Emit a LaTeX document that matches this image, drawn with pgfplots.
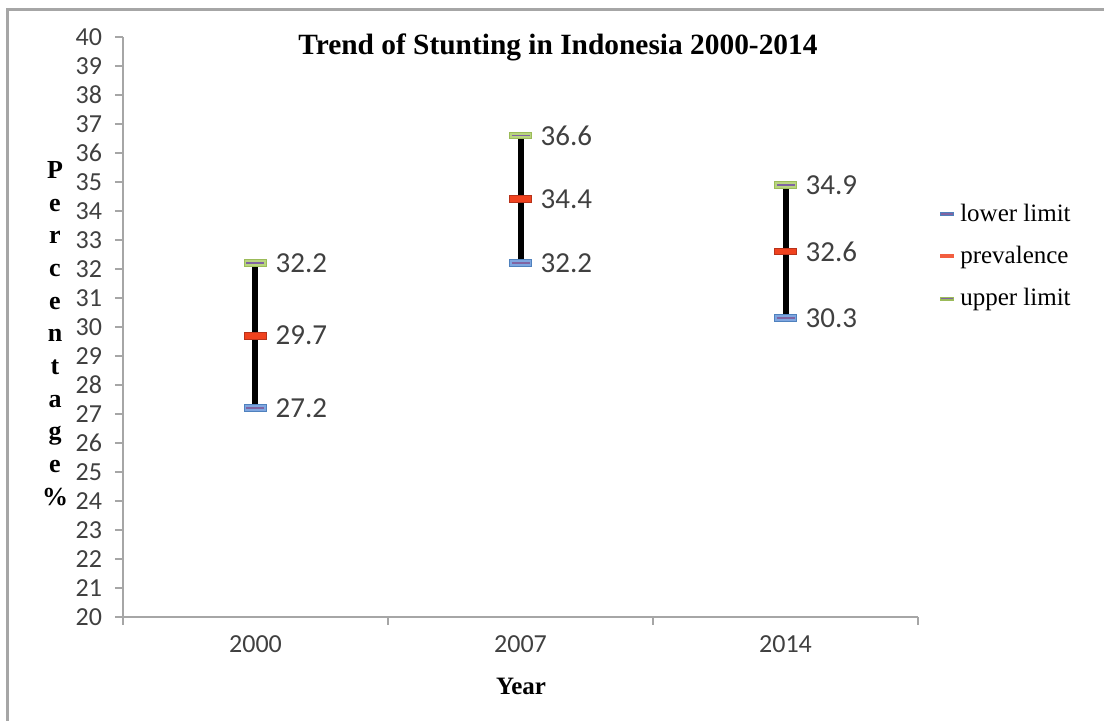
\documentclass[border=0pt]{standalone}
\usepackage{pgfplots}
\pgfplotsset{compat=1.18}
\usepackage{fontspec}
\setmainfont{Liberation Serif}
\newfontfamily\calibri{Carlito}
\definecolor{axgray}{HTML}{A6A6A6}
\definecolor{lowfill}{HTML}{7EA6E0}
\definecolor{lowedge}{HTML}{4F81BD}
\definecolor{purp}{HTML}{8064A2}
\definecolor{upfill}{HTML}{B9D57E}
\definecolor{upedge}{HTML}{9BBB59}
\definecolor{prevfill}{HTML}{F0421E}
\definecolor{prevedge}{HTML}{B8321A}
\definecolor{txt}{HTML}{404040}
\pgfdeclareplotmark{hbar}{\pgfpathrectangle{\pgfpoint{-5.5pt}{-1.7pt}}{\pgfpoint{11pt}{3.4pt}}\pgfusepathqfillstroke}
\pgfdeclareplotmark{hline}{\pgfpathmoveto{\pgfpoint{-4.5pt}{0pt}}\pgfpathlineto{\pgfpoint{4.5pt}{0pt}}\pgfusepathqstroke}
\begin{document}
\begin{tikzpicture}[x=1pt,y=1pt]
\useasboundingbox (0,0) rectangle (552,360.5);
\draw[axgray, line width=1.5pt] (3.5,0) -- (3.5,355.5) -- (552,355.5);
\begin{axis}[
  at={(61.5pt,52pt)}, anchor=south west,
  scale only axis, width=397.5pt, height=290pt,
  xmin=-0.5, xmax=2.5, ymin=20, ymax=40,
  axis x line*=bottom, axis y line*=left,
  axis line style={axgray, line width=0.6pt},
  ytick={20,21,...,40},
  xtick={0,1,2}, xticklabels={2000,2007,2014},
  minor xtick={-0.5,0.5,1.5,2.5},
  major x tick style={draw=none},
  minor x tick style={axgray, line width=0.6pt},
  y tick style={axgray, line width=0.6pt},
  tick align=outside, major tick length=4pt, minor tick length=4pt,
  /pgf/number format/assume math mode=true,
  tick label style={font=\calibri\fontsize{13}{14}\selectfont, text=txt},
  yticklabel style={xshift=-3pt},
  xticklabel style={yshift=-2pt},
  clip=false,
  legend cell align=left,
  legend style={draw=none, fill=none, at={(1.025,0.72)}, anchor=north west,
    font=\fontsize{12.5}{14}\selectfont, row sep=7pt, inner sep=0pt},
  legend image code/.code={},
]
% high-low lines
\addplot[black, line width=3pt, forget plot] coordinates {(0,27.2) (0,32.2)};
\addplot[black, line width=3pt, forget plot] coordinates {(1,32.2) (1,36.6)};
\addplot[black, line width=3pt, forget plot] coordinates {(2,30.3) (2,34.9)};
% lower limit
\addplot[only marks, mark=hbar, mark options={fill=lowfill, draw=lowedge, line width=0.5pt}, forget plot,
  nodes near coords, nodes near coords style={anchor=west, xshift=6.5pt, font=\calibri\fontsize{14.5}{16}\selectfont, text=txt, /pgf/number format/.cd, fixed, precision=1, fixed zerofill}]
  coordinates {(0,27.2) (1,32.2) (2,30.3)};
\addplot[only marks, mark=hline, mark options={draw=purp, line width=0.8pt}, forget plot]
  coordinates {(0,27.2) (1,32.2) (2,30.3)};
% prevalence
\addplot[only marks, mark=hbar, mark options={fill=prevfill, draw=prevedge, line width=0.5pt}, forget plot,
  nodes near coords, nodes near coords style={anchor=west, xshift=6.5pt, font=\calibri\fontsize{14.5}{16}\selectfont, text=txt, /pgf/number format/.cd, fixed, precision=1, fixed zerofill}]
  coordinates {(0,29.7) (1,34.4) (2,32.6)};
% upper limit
\addplot[only marks, mark=hbar, mark options={fill=upfill, draw=upedge, line width=0.5pt}, forget plot,
  nodes near coords, nodes near coords style={anchor=west, xshift=6.5pt, font=\calibri\fontsize{14.5}{16}\selectfont, text=txt, /pgf/number format/.cd, fixed, precision=1, fixed zerofill}]
  coordinates {(0,32.2) (1,36.6) (2,34.9)};
\addplot[only marks, mark=hline, mark options={draw=purp, line width=0.8pt}, forget plot]
  coordinates {(0,32.2) (1,36.6) (2,34.9)};
% legend
\addlegendimage{legend image code/.code={\draw[lowedge, line width=2pt] (0pt,0pt) -- (7pt,0pt); \draw[purp, line width=0.7pt] (0.5pt,0pt) -- (6.5pt,0pt);}}
\addlegendentry{lower limit}
\addlegendimage{legend image code/.code={\draw[prevfill!85!white, line width=2pt] (0pt,0pt) -- (7pt,0pt);}}
\addlegendentry{prevalence}
\addlegendimage{legend image code/.code={\draw[upedge, line width=2pt] (0pt,0pt) -- (7pt,0pt); \draw[purp, line width=0.7pt] (0.5pt,0pt) -- (6.5pt,0pt);}}
\addlegendentry{upper limit}
\end{axis}
\node[font=\bfseries\fontsize{14.7}{17}\selectfont] at (279,337) {Trend of Stunting in Indonesia 2000-2014};
\node[font=\bfseries\fontsize{12.5}{14}\selectfont] at (260.5,17.5) {Year};
\node[font=\bfseries\fontsize{13}{16.35}\selectfont, align=center] at (27.5,193.75) {P\\e\\r\\c\\e\\n\\t\\a\\g\\e\\\%};
\end{tikzpicture}
\end{document}
